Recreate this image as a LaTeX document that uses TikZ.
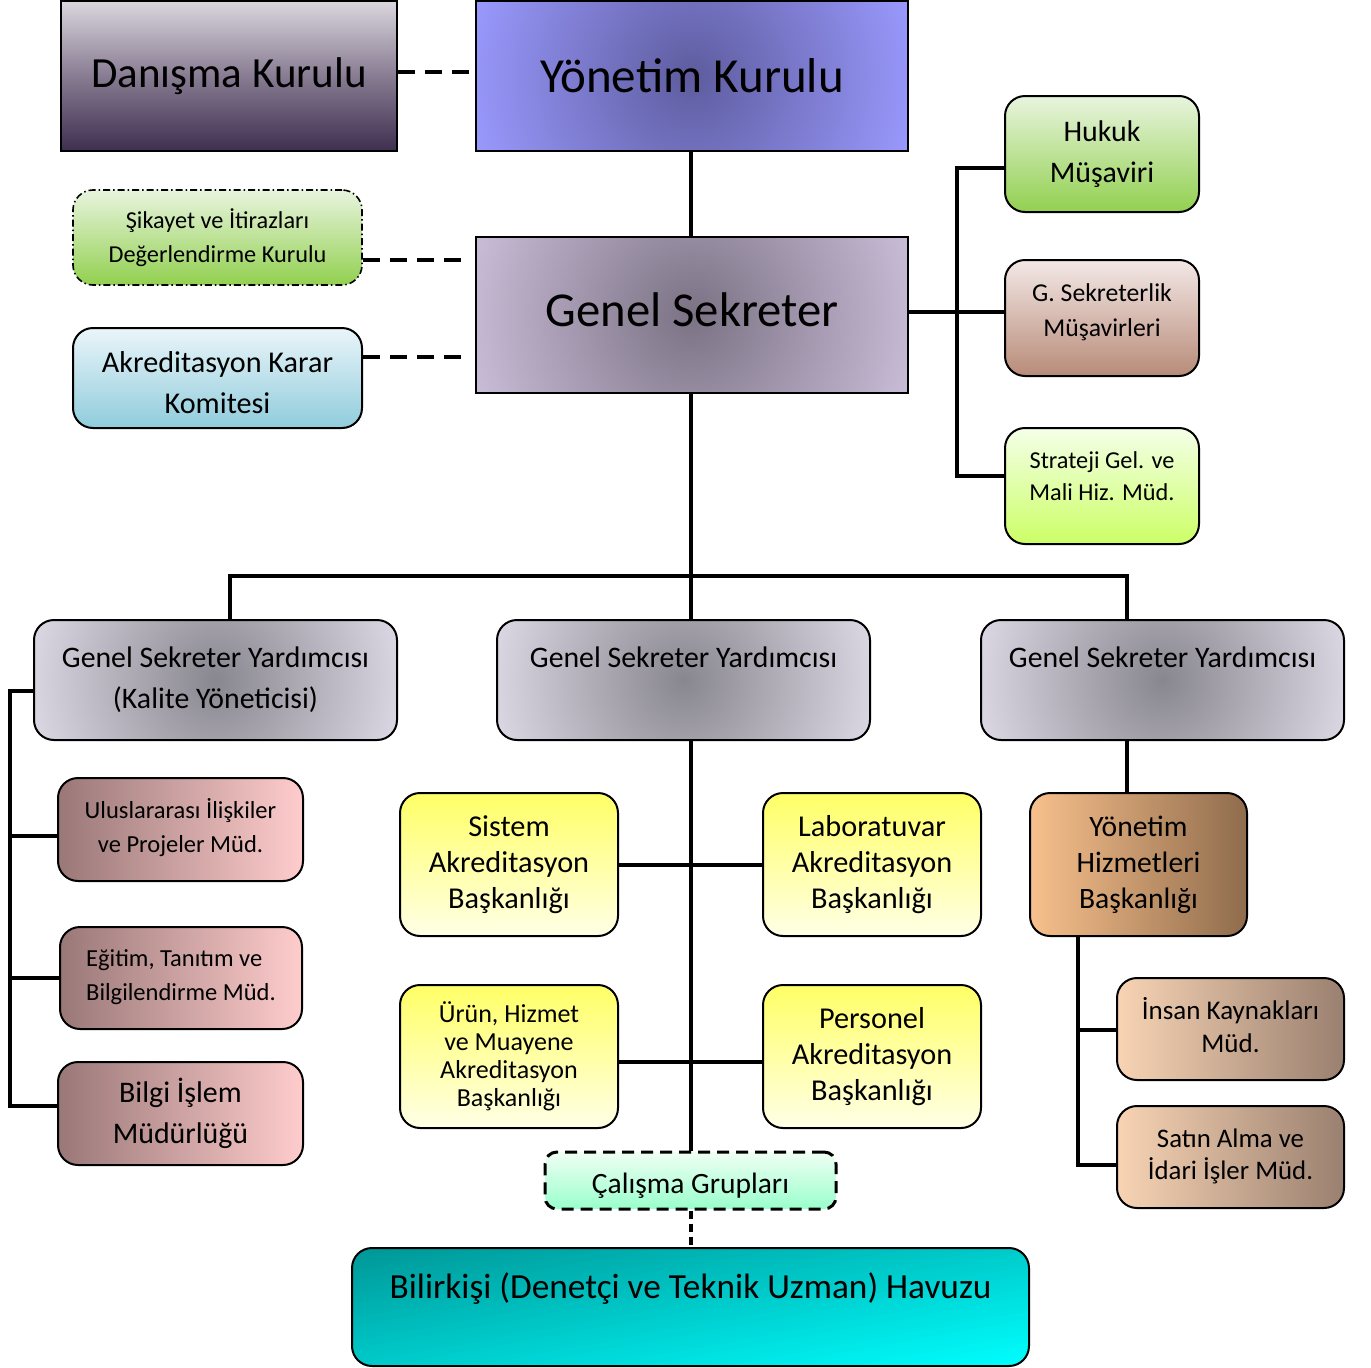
\documentclass[tikz,border=0pt]{standalone}
\usepackage{fontspec}
\setmainfont{Carlito}
\usetikzlibrary{backgrounds,calc}
\newcommand{\fsz}[2]{\fontsize{#1}{#2}\selectfont}
\definecolor{danTop}{HTML}{DAD6DE}
\definecolor{danMid}{HTML}{887C92}
\definecolor{danBot}{HTML}{3E2F50}
\definecolor{ykIn}{HTML}{5E5C9E}
\definecolor{ykOut}{HTML}{9A9AFF}
\definecolor{gsIn}{HTML}{7B7284}
\definecolor{gsOut}{HTML}{CABDD8}
\definecolor{gsyIn}{HTML}{88868F}
\definecolor{gsyOut}{HTML}{E0DCE8}
\definecolor{grnTop}{HTML}{E8F4DE}
\definecolor{grnBot}{HTML}{92D050}
\definecolor{bluTop}{HTML}{EAF5F9}
\definecolor{bluBot}{HTML}{90CCDC}
\definecolor{brnTop}{HTML}{F3E8E6}
\definecolor{brnBot}{HTML}{B88B78}
\definecolor{limTop}{HTML}{F4FFE8}
\definecolor{limBot}{HTML}{CCFF66}
\definecolor{roseL}{HTML}{9A7878}
\definecolor{roseR}{HTML}{FFCCCC}
\definecolor{yelTop}{HTML}{FFFF66}
\definecolor{yelBot}{HTML}{FFFFE6}
\definecolor{orL}{HTML}{F8C08C}
\definecolor{orR}{HTML}{8F6C4C}
\definecolor{peL}{HTML}{F8D4B4}
\definecolor{peR}{HTML}{9A8070}
\definecolor{calTop}{HTML}{F0FFF4}
\definecolor{calBot}{HTML}{99FFCC}
\definecolor{tealA}{HTML}{009696}
\definecolor{tealB}{HTML}{00FFFF}
\begin{document}
\begin{tikzpicture}[x=1pt,y=-1pt,
  sq/.style={draw=black, line width=2pt, inner sep=0pt, align=center},
  rbox/.style={draw=black, line width=2pt, inner sep=0pt, align=center, rounded corners=20pt},
  conn/.style={line width=4pt},
  dconn/.style={line width=4pt, dash pattern=on 17pt off 10pt},
  radfill/.style n args={3}{fill=#2, path picture={\shade[inner color=#1, outer color=#2]
      (path picture bounding box.center) circle (#3);}},
]
\useasboundingbox (0,0) rectangle (1371,1368);

% diagonal teal gradient of the pool box (drawn as strips, clipped to the box outline)
\begin{scope}
  \clip[rounded corners=20pt] (352,1248) rectangle (1029,1366);
  \fill[tealB] (352,1248) rectangle (1029,1366);
  \foreach \i in {0,...,63}{
    \pgfmathsetmacro{\sa}{2*\i/64}
    \pgfmathsetmacro{\sb}{2*(\i+1)/64+0.012}
    \pgfmathsetmacro{\pc}{100*\i/63}
    \fill[tealB!\pc!tealA, sharp corners] ({352+680*\sa},1246) -- ({352+680*\sb},1246)
      -- ({352+680*(\sb-1)},1368) -- ({352+680*(\sa-1)},1368) -- cycle;
  }
\end{scope}

% top row
\node[sq, minimum width=336pt, minimum height=150pt, top color=danTop, bottom color=danBot, middle color=danMid,
  font=\fsz{43}{50}] (dan) at (229,76) {Danışma Kurulu};
\node[sq, minimum width=432pt, minimum height=150pt, radfill={ykIn}{ykOut}{232pt},
  font=\fsz{49}{56}] (yk) at (692,76) {Yönetim Kurulu};
\node[sq, minimum width=432pt, minimum height=156pt, radfill={gsIn}{gsOut}{232pt},
  font=\fsz{48.7}{56}, text depth=10pt] (gs) at (692,315) {Genel Sekreter};

\node[rbox, line width=1.6pt, dash pattern=on 7pt off 3pt on 1.5pt off 3pt, minimum width=289pt, minimum height=95pt,
  top color=grnTop, bottom color=grnBot, font=\fsz{24.3}{34}] (sik) at (217.5,237.5) {Şikayet ve İtirazları\\Değerlendirme Kurulu};
\node[rbox, minimum width=289pt, minimum height=100pt, top color=bluTop, bottom color=bluBot,
  font=\fsz{30.2}{41}, text height=72pt] (akk) at (217.5,378) {Akreditasyon Karar\\Komitesi};

% right advisers
\node[rbox, minimum width=194pt, minimum height=116pt, top color=grnTop, bottom color=grnBot,
  font=\fsz{29.9}{41}] (huk) at (1102,154) {Hukuk\\Müşaviri};
\node[rbox, minimum width=194pt, minimum height=116pt, top color=brnTop, bottom color=brnBot,
  font=\fsz{25.7}{35}, text depth=16pt] (gsm) at (1102,318) {G. Sekreterlik\\Müşavirleri};
\node[rbox, minimum width=194pt, minimum height=116pt, top color=limTop, bottom color=limBot,
  font=\fsz{24.3}{32}, text depth=20pt] (str) at (1102,486) {Strateji Gel. ve\\Mali Hiz. Müd.};

% deputies
\node[rbox, minimum width=363pt, minimum height=120pt, radfill={gsyIn}{gsyOut}{200pt}, font=\fsz{29.8}{41}] (gsy1) at (215.5,680)
  {Genel Sekreter Yardımcısı\\(Kalite Yöneticisi)};
\node[rbox, minimum width=373pt, minimum height=120pt, radfill={gsyIn}{gsyOut}{205pt}, font=\fsz{29.8}{41}] (gsy2) at (683.5,680)
  {Genel Sekreter Yardımcısı\\\phantom{(Kalite)}};
\node[rbox, minimum width=363pt, minimum height=120pt, radfill={gsyIn}{gsyOut}{200pt}, font=\fsz{29.8}{41}] (gsy3) at (1162.5,680)
  {Genel Sekreter Yardımcısı\\\phantom{(Kalite)}};

% left column
\node[rbox, minimum width=245pt, minimum height=103pt, left color=roseL, right color=roseR,
  font=\fsz{24.5}{34}, text depth=8pt] (ulu) at (180.5,829.5) {Uluslararası İlişkiler\\ve Projeler Müd.};
\node[rbox, minimum width=242pt, minimum height=102pt, left color=roseL, right color=roseR,
  font=\fsz{24.5}{34}, align=left, text depth=6pt] (egi) at (181,978) {Eğitim, Tanıtım ve\\Bilgilendirme Müd.};
\node[rbox, minimum width=245pt, minimum height=103pt, left color=roseL, right color=roseR,
  font=\fsz{29.9}{41}] (bil) at (180.5,1113.5) {Bilgi İşlem\\Müdürlüğü};

% middle column
\node[rbox, minimum width=218pt, minimum height=143pt, top color=yelTop, bottom color=yelBot,
  font=\fsz{30.3}{36}] (sis) at (509,864.5) {Sistem\\Akreditasyon\\Başkanlığı};
\node[rbox, minimum width=218pt, minimum height=143pt, top color=yelTop, bottom color=yelBot,
  font=\fsz{30.3}{36}] (lab) at (872,864.5) {Laboratuvar\\Akreditasyon\\Başkanlığı};
\node[rbox, minimum width=218pt, minimum height=143pt, top color=yelTop, bottom color=yelBot,
  font=\fsz{26}{28}] (urn) at (509,1056.5) {Ürün, Hizmet\\ve Muayene\\Akreditasyon\\Başkanlığı};
\node[rbox, minimum width=218pt, minimum height=143pt, top color=yelTop, bottom color=yelBot,
  font=\fsz{30.3}{36}] (per) at (872,1056.5) {Personel\\Akreditasyon\\Başkanlığı};

% right column
\node[rbox, minimum width=217pt, minimum height=143pt, left color=orL, right color=orR,
  font=\fsz{29.6}{36}] (yhb) at (1138.5,864.5) {Yönetim\\Hizmetleri\\Başkanlığı};
\node[rbox, minimum width=227pt, minimum height=102pt, left color=peL, right color=peR,
  font=\fsz{27}{33}, text depth=8pt] (ins) at (1230.5,1029) {İnsan Kaynakları\\Müd.};
\node[rbox, minimum width=227pt, minimum height=102pt, left color=peL, right color=peR,
  font=\fsz{26.8}{32}, text depth=6pt] (sat) at (1230.5,1157) {Satın Alma ve\\İdari İşler Müd.};

% bottom
\node[rbox, line width=3pt, dash pattern=on 12pt off 7pt, rounded corners=12pt, minimum width=291pt, minimum height=57pt,
  top color=calTop, bottom color=calBot, font=\fsz{29.5}{36}, text height=32pt, text depth=6pt] (cal) at (690.5,1180.5) {Çalışma Grupları};
\node[rbox, minimum width=677pt, minimum height=118pt,
  font=\fsz{35.3}{42}] (bir) at (690.5,1307) {Bilirkişi (Denetçi ve Teknik Uzman) Havuzu\\\phantom{X}};

% connectors
\coordinate (danL) at (430,72);
\coordinate (sikEnd) at (466,260);
\coordinate (akkEnd) at (466,357);
\coordinate (gsLine) at (930,312);
\coordinate (rb1) at (957,168);
\coordinate (rb3) at (957,476);
\coordinate (cb) at (691,576);
\coordinate (hl) at (230,576);
\coordinate (hr) at (1127,576);
\coordinate (lb0) at (10,691);
\coordinate (lb1) at (10,836);
\coordinate (lb2) at (10,978);
\coordinate (lb3) at (10,1106);
\coordinate (yb0) at (1078,936);
\coordinate (yb1) at (1078,1030);
\coordinate (yb2) at (1078,1165);
\coordinate (ul) at (691,1062);

\begin{scope}[on background layer]
\draw[dconn] (dan.east |- danL) -- (yk.west |- danL);
\draw[dconn] (sik.east |- sikEnd) -- (sikEnd);
\draw[dconn] (akk.east |- akkEnd) -- (akkEnd);
\draw[conn] (yk.south -| cb) -- (gs.north -| cb);
\draw[conn] (gs.east |- gsLine) -- (gsm.west |- gsLine);
\draw[conn, line cap=rect] (rb1) -- (rb3);
\draw[conn] (rb1) -- (rb1 -| huk.west);
\draw[conn] (rb3) -- (rb3 -| str.west);
\draw[conn] (gs.south -| cb) -- (gsy2.north -| cb);
\draw[conn, line cap=rect] (hl) -- (hr);
\draw[conn] (hl) -- (hl |- gsy1.north);
\draw[conn] (hr) -- (hr |- gsy3.north);
\draw[conn] (gsy2.south -| cb) -- (cal.north -| cb);
\draw[conn] (sis.east) -- (lab.west);
\draw[conn] (urn.east |- ul) -- (per.west |- ul);
\draw[dconn, dash pattern=on 8pt off 5pt] (cal.south -| cb) -- (bir.north -| cb);
\draw[conn] (lb0 -| gsy1.west) -- (lb0) -- (lb3) -- (lb3 -| bil.west);
\draw[conn] (lb1) -- (lb1 -| ulu.west);
\draw[conn] (lb2) -- (lb2 -| egi.west);
\draw[conn] (hr |- gsy3.south) -- (hr |- yhb.north);
\draw[conn] (yb0) -- (yb2) -- (yb2 -| sat.west);
\draw[conn] (yb1) -- (yb1 -| ins.west);
\end{scope}
\end{tikzpicture}
\end{document}
